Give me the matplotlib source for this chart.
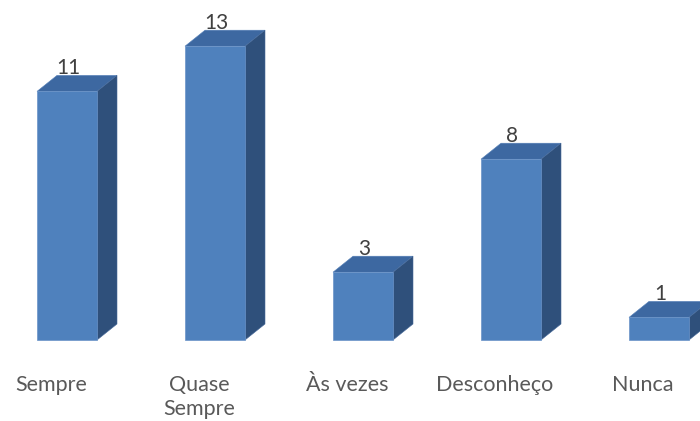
import matplotlib
matplotlib.use("Agg")
import matplotlib.pyplot as plt
from matplotlib.patches import Polygon

categories = ["Sempre", "Quase\nSempre", "Às vezes", "Desconheço", "Nunca"]
values = [11, 13, 3, 8, 1]

FRONT = "#4F81BD"
TOP = "#3D68A1"
SIDE = "#2F507B"
NUM_COLOR = "#404040"
CAT_COLOR = "#595959"
FONT = "Lato"

fig = plt.figure(figsize=(7.0, 4.21), dpi=100)
ax = fig.add_axes([0, 0, 1, 1])
# axis scale: 148 px per category, 22.6 px per unit value
px_x = 148.0
px_y = 22.6
ax.set_xlim(-67 / px_x, (700 - 67) / px_x)
ax.set_ylim(-(421 - 340) / px_y, 340 / px_y)
ax.axis("off")

half_w = 30 / px_x
dx = 20 / px_x
dy = 16 / px_y

xs = list(range(len(values)))
ax.bar(xs, values, width=2 * half_w, color=FRONT, edgecolor="#6a93c8",
       linewidth=0.5, zorder=3)

for x, v in zip(xs, values):
    l, r = x - half_w, x + half_w
    top = Polygon([(l, v), (r, v), (r + dx, v + dy), (l + dx, v + dy)],
                  closed=True, facecolor=TOP, edgecolor="#5580b8",
                  linewidth=0.4, zorder=2)
    side = Polygon([(r, 0), (r + dx, dy), (r + dx, v + dy), (r, v)],
                   closed=True, facecolor=SIDE, edgecolor="#46699a",
                   linewidth=0.4, zorder=2)
    ax.add_patch(top)
    ax.add_patch(side)
    ax.text(x + 0.01, v + dy + 0.05, str(v), ha="center", va="baseline",
            fontsize=15, color=NUM_COLOR, family=FONT, zorder=4)

# category labels, set slightly left of each bar's front face
label_shift = -16 / px_x
first_base = -(391 - 340) / px_y
line_step = 24 / px_y
for x, name in zip(xs, categories):
    for k, line in enumerate(name.split("\n")):
        ax.text(x + label_shift, first_base - k * line_step, line,
                ha="center", va="baseline", fontsize=15.5, color=CAT_COLOR,
                family=FONT)

fig.savefig("out.png", dpi=100)
